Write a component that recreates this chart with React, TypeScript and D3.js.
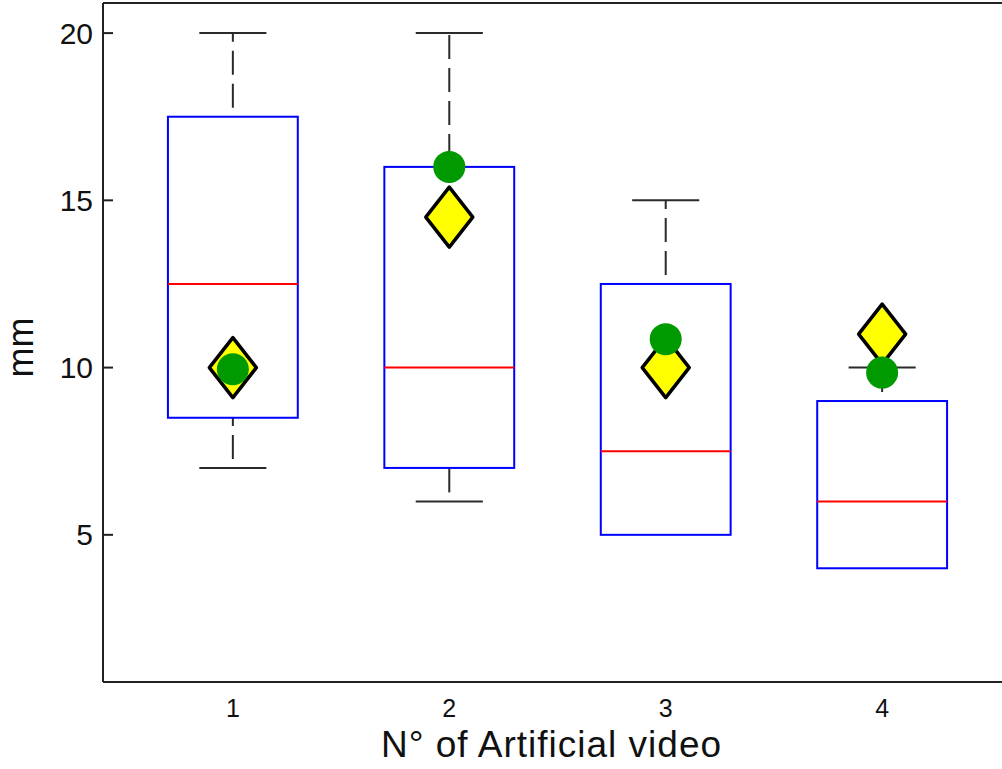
import React from "react";
import * as d3 from "d3";

const categories = [1, 2, 3, 4];
const q1Values = [8.5, 7, 5, 4];
const medianValues = [12.5, 10, 7.5, 6];
const q3Values = [17.5, 16, 12.5, 9];
const whiskerLow = [7, 6, 5, 4];
const whiskerHigh = [20, 20, 15, 10];
const diamondValues = [10, 14.5, 10, 11];
const circleValues = [9.95, 16, 10.85, 9.85];
const yTicks = [5, 10, 15, 20];
const xLabel = "N° of Artificial video";
const yLabel = "mm";

const W = 1002;
const H = 769;

export default function App() {
  const x = d3.scaleLinear().domain([0.4, 4.6]).range([103, 1012]);
  const y = d3.scaleLinear().domain([0.6, 20.9]).range([682, 3]);
  const boxHalf = x(0.3) - x(0);
  const capHalf = x(0.155) - x(0);
  const font = "'Liberation Sans', Arial, Helvetica, sans-serif";
  const dHalfW = 23.5;
  const dHalfH = 30;
  const diamond = (cx: number, cy: number) =>
    `M${cx},${cy - dHalfH}L${cx + dHalfW},${cy}L${cx},${cy + dHalfH}L${cx - dHalfW},${cy}Z`;

  const [x0, x1] = x.range();
  const [yb, yt] = y.range();

  return (
    <svg
      width={W}
      height={H}
      style={{ position: "absolute", left: 0, top: 0, background: "#fff" }}
      fontFamily={font}
    >
      <rect x={0} y={0} width={W} height={H} fill="#fff" />
      {categories.map((c, i) => {
        const cx = x(c);
        const wl = whiskerLow[i];
        const wh = whiskerHigh[i];
        return (
          <g key={c}>
            {wh > q3Values[i] && (
              <>
                <line
                  x1={cx}
                  x2={cx}
                  y1={y(q3Values[i])}
                  y2={y(wh)}
                  stroke="#2a2a2a"
                  strokeWidth={2}
                  strokeDasharray="24 9"
                  strokeDashoffset={24}
                />
                <line x1={cx - capHalf} x2={cx + capHalf} y1={y(wh)} y2={y(wh)} stroke="#2a2a2a" strokeWidth={2} />
              </>
            )}
            {wl < q1Values[i] && (
              <>
                <line
                  x1={cx}
                  x2={cx}
                  y1={y(wl)}
                  y2={y(q1Values[i])}
                  stroke="#2a2a2a"
                  strokeWidth={2}
                  strokeDasharray="24 9"
                  strokeDashoffset={24}
                />
                <line x1={cx - capHalf} x2={cx + capHalf} y1={y(wl)} y2={y(wl)} stroke="#2a2a2a" strokeWidth={2} />
              </>
            )}
            <rect
              x={cx - boxHalf}
              y={y(q3Values[i])}
              width={boxHalf * 2}
              height={y(q1Values[i]) - y(q3Values[i])}
              fill="none"
              stroke="#0000ff"
              strokeWidth={2}
            />
            <line
              x1={cx - boxHalf}
              x2={cx + boxHalf}
              y1={y(medianValues[i])}
              y2={y(medianValues[i])}
              stroke="#ff0000"
              strokeWidth={2}
            />
          </g>
        );
      })}
      {categories.map((c, i) => (
        <path
          key={"d" + c}
          d={diamond(x(c), y(diamondValues[i]))}
          fill="#ffff00"
          stroke="#000"
          strokeWidth={3.5}
          strokeLinejoin="round"
        />
      ))}
      {categories.map((c, i) => (
        <circle key={"c" + c} cx={x(c)} cy={y(circleValues[i])} r={16} fill="#009900" />
      ))}
      <line x1={x0} x2={x0} y1={yt} y2={yb} stroke="#222" strokeWidth={2} />
      <line x1={x0} x2={x1} y1={yb} y2={yb} stroke="#222" strokeWidth={2} />
      <line x1={x0} x2={x1} y1={yt} y2={yt} stroke="#222" strokeWidth={2} />
      {yTicks.map((t) => (
        <g key={"yt" + t}>
          <line x1={x0} x2={x0 + 10} y1={y(t)} y2={y(t)} stroke="#222" strokeWidth={2} />
          <text x={93} y={y(t) + 10.5} textAnchor="end" fontSize={30} fill="#111">
            {t}
          </text>
        </g>
      ))}
      {categories.map((c) => (
        <text key={"xt" + c} x={x(c)} y={717} textAnchor="middle" fontSize={25} fill="#111">
          {c}
        </text>
      ))}
      <text x={551.5} y={757} textAnchor="middle" fontSize={37} letterSpacing={1} fill="#111">
        {xLabel}
      </text>
      <text transform={`translate(33,${(yt + yb) / 2 + 5}) rotate(-90)`} textAnchor="middle" fontSize={36} fill="#111">
        {yLabel}
      </text>
    </svg>
  );
}
